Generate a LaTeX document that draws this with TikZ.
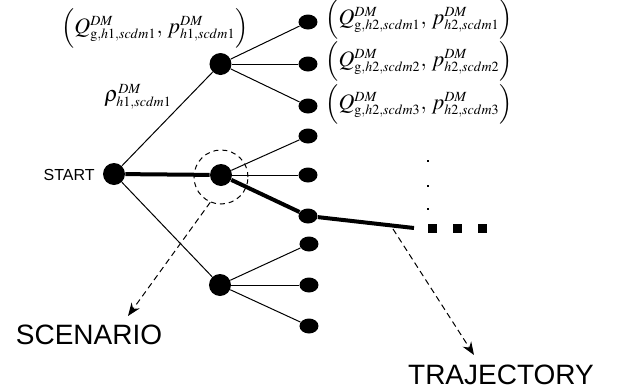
\documentclass[tikz,border=0pt]{standalone}
\usepackage{mathptmx}
\usepackage{fontspec}
\setsansfont{Liberation Sans}
\DeclareMathSizes{10}{11}{7}{5}
\usetikzlibrary{shapes.geometric,arrows.meta}
\tikzset{
  root/.style={circle, fill=black, draw=none, minimum size=11pt, inner sep=0pt},
  leaf/.style={ellipse, fill=black, draw=none, minimum width=9.5pt, minimum height=7.5pt, inner sep=0pt},
  thin/.style={line width=0.5pt},
  thick path/.style={line width=2pt},
  sq/.style={rectangle, fill=black, minimum size=4.5pt, inner sep=0pt},
  dotn/.style={rectangle, fill=black, minimum size=1.4pt, inner sep=0pt},
  lbl/.style={inner sep=0pt, font=\fontsize{10}{12}\selectfont},
  txt/.style={inner sep=0pt, font=\sffamily\fontsize{14}{16}\selectfont},
  pointer/.style={densely dashed, line width=0.5pt, -{Stealth[length=6.5pt,width=5pt]}}
}
\begin{document}
\begin{tikzpicture}[x=0.5pt,y=-0.5pt]
\useasboundingbox (0,0) rectangle (618,392);
% main nodes
\node[root] (s) at (114,174) {};
\node[root] (m1) at (220.5,64) {};
\node[root] (m2) at (221,175) {};
\node[root] (m3) at (220,285) {};
% leaves
\node[leaf] (l1) at (308,22) {};
\node[leaf] (l2) at (308,64) {};
\node[leaf] (l3) at (308,106) {};
\node[leaf] (l4) at (308,136) {};
\node[leaf] (l5) at (308,175) {};
\node[leaf] (l6) at (308,216) {};
\node[leaf] (l7) at (309,244) {};
\node[leaf] (l8) at (309,285) {};
\node[leaf] (l9) at (309,326) {};
\coordinate (tend) at (414,228);
% edges
\draw[thin] (s) -- (m1);
\draw[thin] (s) -- (m3);
\draw[thin] (m1) -- (l1);
\draw[thin] (m1) -- (l2);
\draw[thin] (m1) -- (l3);
\draw[thin] (m2) -- (l4);
\draw[thin] (m2) -- (l5);
\draw[thin] (m3) -- (l7);
\draw[thin] (m3) -- (l8);
\draw[thin] (m3) -- (l9);
\draw[thick path] (s) -- (m2) -- (l6) -- (tend);
% continuation marks
\node[dotn] (d1) at (428,161) {};
\node[dotn] (d2) at (428,186) {};
\node[dotn] (d3) at (428,209) {};
\node[sq] (q1) at (433,228) {};
\node[sq] (q2) at (458,228) {};
\node[sq] (q3) at (483,228) {};
% scenario circle
\node[circle, draw, line width=0.5pt, dash pattern=on 2.5pt off 2pt, minimum size=27pt, inner sep=0pt] (sc) at (221,177) {};
% labels
\node[inner sep=0pt, anchor=east, font=\sffamily\fontsize{8}{9}\selectfont] (start) at (95,175) {START};
\node[txt] (scen) at (89,335) {SCENARIO};
\node[txt] (traj) at (501,375) {TRAJECTORY};
\node[lbl] (top) at (155,28) {$\Bigl(Q^{DM}_{\mathrm{g},h1,scdm1},\, p^{DM}_{h1,scdm1}\Bigr)$};
\node[lbl, anchor=west] (rho) at (104,97) {$\rho^{DM}_{h1,scdm1}$};
\node[lbl, anchor=west] (r1) at (325,19) {$\Bigl(Q^{DM}_{\mathrm{g},h2,scdm1},\, p^{DM}_{h2,scdm1}\Bigr)$};
\node[lbl, anchor=west] (r2) at (325,61) {$\Bigl(Q^{DM}_{\mathrm{g},h2,scdm2},\, p^{DM}_{h2,scdm2}\Bigr)$};
\node[lbl, anchor=west] (r3) at (325,104) {$\Bigl(Q^{DM}_{\mathrm{g},h2,scdm3},\, p^{DM}_{h2,scdm3}\Bigr)$};
% pointers
\coordinate (stip) at (128,316);
\coordinate (ttail) at (393,229);
\coordinate (ttip) at (474,355);
\draw[pointer] (sc.247) -- (stip);
\draw[pointer] (ttail) -- (ttip);
\end{tikzpicture}
\end{document}
